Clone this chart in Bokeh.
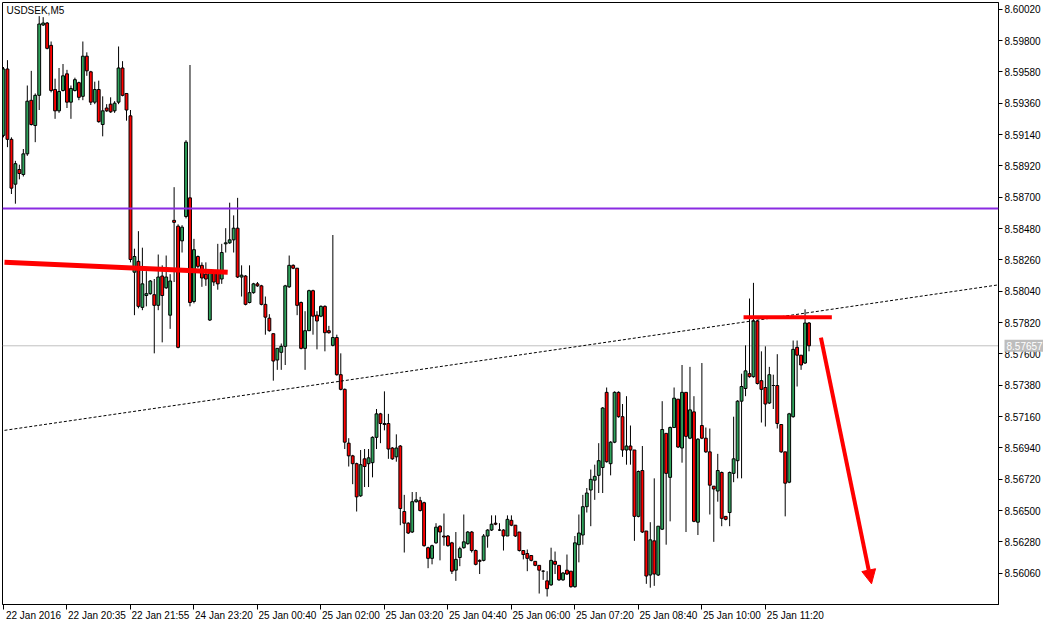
from bokeh.plotting import figure
from bokeh.models import (Range1d, FixedTicker, Span, Label, Arrow, NormalHead,
                          ColumnDataSource, NumeralTickFormatter, LinearAxis)
from bokeh.embed import file_html
from bokeh.resources import INLINE

# ---- data: USDSEK M5 candles (bar index 0..203) ----
opens = [
 8.59135, 8.59601, 8.59107, 8.58792, 8.58895, 8.58860, 8.59005, 8.59381, 8.59204, 8.59416,
 8.59910, 8.59924, 8.59767, 8.59457, 8.59307, 8.59450, 8.59567, 8.59368, 8.59450, 8.59505,
 8.59409, 8.59691, 8.59581, 8.59368, 8.59457, 8.59211, 8.59327, 8.59354, 8.59307, 8.59368,
 8.59608, 8.59429, 8.59272, 8.58174, 8.58250, 8.57927, 8.58010, 8.58023, 8.58016, 8.57941,
 8.58147, 8.58064, 8.57872, 8.58538, 8.58497, 8.58394, 8.58565, 8.58696, 8.57968, 8.58284,
 8.58222, 8.58160, 8.57838, 8.58174, 8.58181, 8.58126, 8.58373, 8.58380, 8.58401, 8.58483,
 8.58140, 8.58147, 8.57961, 8.58030, 8.58092, 8.58078, 8.57948, 8.57851, 8.57742, 8.57557,
 8.57611, 8.57653, 8.58071, 8.58222, 8.58202, 8.57961, 8.57639, 8.57763, 8.58044, 8.57872,
 8.57865, 8.57934, 8.57763, 8.57660, 8.57715, 8.57454, 8.57351, 8.56973, 8.56884, 8.56829,
 8.56603, 8.56863, 8.56829, 8.56836, 8.57014, 8.57179, 8.57111, 8.57111, 8.56939, 8.56877,
 8.56953, 8.56493, 8.56411, 8.56349, 8.56562, 8.56569, 8.56555, 8.56239, 8.56164, 8.56273,
 8.56390, 8.56321, 8.56321, 8.56273, 8.56081, 8.56170, 8.56239, 8.56267, 8.56349, 8.56219,
 8.56150, 8.56150, 8.56321, 8.56363, 8.56411, 8.56363, 8.56363, 8.56321, 8.56431, 8.56397,
 8.56349, 8.56219, 8.56198, 8.56184, 8.56143, 8.56115, 8.56074, 8.56006, 8.55978, 8.56143,
 8.56115, 8.56013, 8.56081, 8.56074, 8.55965, 8.56260, 8.56328, 8.56527, 8.56644, 8.56713,
 8.56747, 8.56802, 8.57330, 8.56829, 8.56980, 8.57330, 8.57159, 8.56925, 8.56953, 8.56925,
 8.56459, 8.56781, 8.56356, 8.56047, 8.56287, 8.56047, 8.56369, 8.57042, 8.56733, 8.57083,
 8.57282, 8.56939, 8.57330, 8.57008, 8.57193, 8.56418, 8.57097, 8.57008, 8.56912, 8.56671,
 8.56637, 8.56767, 8.56459, 8.56486, 8.56761, 8.56850, 8.57268, 8.57357, 8.57461, 8.57440,
 8.57831, 8.57412, 8.57364, 8.57255, 8.57378, 8.57378, 8.57104, 8.56912, 8.56699, 8.57159,
 8.57646, 8.57591, 8.57536, 8.57817]
highs = [
 8.59615, 8.59663, 8.59121, 8.58956, 8.58929, 8.59039, 8.59485, 8.59588, 8.59429, 8.59972,
 8.59965, 8.59931, 8.59794, 8.59533, 8.59608, 8.59636, 8.59595, 8.59485, 8.59540, 8.59512,
 8.59794, 8.59718, 8.59588, 8.59512, 8.59519, 8.59409, 8.59354, 8.59402, 8.59375, 8.59759,
 8.59656, 8.59429, 8.59313, 8.58339, 8.58462, 8.58346, 8.58181, 8.58119, 8.58126, 8.58298,
 8.58222, 8.58291, 8.58160, 8.58771, 8.58510, 8.58504, 8.59101, 8.59629, 8.58408, 8.58291,
 8.58243, 8.58243, 8.58174, 8.58181, 8.58373, 8.58373, 8.58483, 8.58662, 8.58573, 8.58696,
 8.58222, 8.58153, 8.58222, 8.58099, 8.58105, 8.58085, 8.58003, 8.57879, 8.57742, 8.57639,
 8.57673, 8.58085, 8.58291, 8.58229, 8.58202, 8.57968, 8.57900, 8.58051, 8.58051, 8.57900,
 8.57941, 8.57941, 8.57797, 8.58435, 8.57735, 8.57604, 8.57357, 8.57008, 8.56891, 8.56836,
 8.56925, 8.56932, 8.56932, 8.57021, 8.57213, 8.57186, 8.57337, 8.57179, 8.56946, 8.57035,
 8.56960, 8.56610, 8.56418, 8.56630, 8.56630, 8.56596, 8.56562, 8.56246, 8.56260, 8.56411,
 8.56397, 8.56479, 8.56328, 8.56280, 8.56349, 8.56246, 8.56472, 8.56356, 8.56356, 8.56226,
 8.56157, 8.56335, 8.56369, 8.56466, 8.56466, 8.56411, 8.56369, 8.56466, 8.56466, 8.56397,
 8.56349, 8.56219, 8.56226, 8.56184, 8.56143, 8.56115, 8.56081, 8.56074, 8.56239, 8.56212,
 8.56115, 8.56068, 8.56191, 8.56074, 8.56321, 8.56472, 8.56610, 8.56658, 8.56788, 8.56822,
 8.56973, 8.57227, 8.57364, 8.56987, 8.57337, 8.57337, 8.57248, 8.57303, 8.57097, 8.56925,
 8.56781, 8.56953, 8.56356, 8.56418, 8.56726, 8.56390, 8.57268, 8.57042, 8.57090, 8.57364,
 8.57282, 8.57522, 8.57330, 8.57509, 8.57303, 8.57008, 8.57536, 8.57083, 8.57076, 8.56671,
 8.56898, 8.56774, 8.56459, 8.56774, 8.57159, 8.57275, 8.57461, 8.57660, 8.57989, 8.58099,
 8.57838, 8.57618, 8.57653, 8.57509, 8.57454, 8.57598, 8.57104, 8.56912, 8.57186, 8.57694,
 8.57694, 8.57591, 8.57913, 8.57824]
lows = [
 8.59121, 8.59052, 8.58723, 8.58655, 8.58826, 8.58846, 8.58991, 8.59204, 8.59087, 8.59313,
 8.59903, 8.59739, 8.59437, 8.59251, 8.59293, 8.59443, 8.59327, 8.59251, 8.59443, 8.59382,
 8.59382, 8.59553, 8.59348, 8.59354, 8.59224, 8.59128, 8.59300, 8.59293, 8.59293, 8.59354,
 8.59409, 8.59238, 8.58243, 8.57872, 8.57920, 8.57907, 8.57934, 8.58016, 8.57604, 8.57907,
 8.57681, 8.58057, 8.57776, 8.58105, 8.57639, 8.58312, 8.58552, 8.57934, 8.57955, 8.58202,
 8.58071, 8.58078, 8.57831, 8.58078, 8.58051, 8.58092, 8.58312, 8.58373, 8.58312, 8.58133,
 8.58003, 8.57941, 8.57955, 8.58023, 8.58071, 8.57941, 8.57735, 8.57756, 8.57412, 8.57488,
 8.57488, 8.57522, 8.58064, 8.58195, 8.57872, 8.57632, 8.57488, 8.57763, 8.57735, 8.57632,
 8.57858, 8.57618, 8.57742, 8.57653, 8.57447, 8.57344, 8.56932, 8.56809, 8.56685, 8.56493,
 8.56596, 8.56665, 8.56665, 8.56733, 8.56932, 8.56973, 8.57063, 8.56863, 8.56856, 8.56843,
 8.56397, 8.56205, 8.56335, 8.56342, 8.56555, 8.56493, 8.56246, 8.56095, 8.56122, 8.56267,
 8.56150, 8.56253, 8.56246, 8.56054, 8.56006, 8.56109, 8.56232, 8.56260, 8.56205, 8.56115,
 8.56054, 8.56143, 8.56239, 8.56356, 8.56397, 8.56356, 8.56219, 8.56321, 8.56390, 8.56314,
 8.56212, 8.56157, 8.56074, 8.56143, 8.56109, 8.55917, 8.56013, 8.55896, 8.55971, 8.56054,
 8.56006, 8.56006, 8.56047, 8.55958, 8.55958, 8.56136, 8.56260, 8.56486, 8.56390, 8.56575,
 8.56623, 8.56623, 8.56836, 8.56747, 8.56973, 8.57152, 8.56877, 8.56822, 8.56822, 8.56287,
 8.56452, 8.56342, 8.55985, 8.55958, 8.55971, 8.56040, 8.56363, 8.56260, 8.56424, 8.57083,
 8.56939, 8.56836, 8.56349, 8.57001, 8.56418, 8.56328, 8.57001, 8.56905, 8.56472, 8.56280,
 8.56562, 8.56390, 8.56431, 8.56390, 8.56699, 8.56726, 8.56726, 8.57303, 8.57433, 8.57433,
 8.57385, 8.57118, 8.57090, 8.57248, 8.57213, 8.57076, 8.56905, 8.56459, 8.56692, 8.57152,
 8.57371, 8.57488, 8.57529, 8.57618]
closes = [
 8.59601, 8.59107, 8.58764, 8.58936, 8.58867, 8.59005, 8.59375, 8.59211, 8.59416, 8.59917,
 8.59924, 8.59746, 8.59450, 8.59307, 8.59443, 8.59553, 8.59368, 8.59464, 8.59526, 8.59402,
 8.59691, 8.59588, 8.59368, 8.59457, 8.59231, 8.59307, 8.59307, 8.59300, 8.59361, 8.59608,
 8.59416, 8.59313, 8.58263, 8.58284, 8.57934, 8.58092, 8.58023, 8.58112, 8.57941, 8.58140,
 8.58010, 8.58140, 8.58112, 8.58524, 8.57646, 8.58490, 8.59087, 8.57961, 8.58332, 8.58215,
 8.58133, 8.58126, 8.58167, 8.58105, 8.58092, 8.58312, 8.58380, 8.58401, 8.58483, 8.58140,
 8.58153, 8.57948, 8.58030, 8.58092, 8.58078, 8.57948, 8.57858, 8.57763, 8.57550, 8.57639,
 8.57653, 8.58078, 8.58222, 8.58202, 8.57941, 8.57639, 8.57763, 8.58044, 8.57865, 8.57831,
 8.57934, 8.57749, 8.57749, 8.57715, 8.57454, 8.57351, 8.56980, 8.56884, 8.56829, 8.56596,
 8.56822, 8.56809, 8.56870, 8.57014, 8.57179, 8.57111, 8.57104, 8.56932, 8.56863, 8.56939,
 8.56514, 8.56411, 8.56342, 8.56562, 8.56575, 8.56500, 8.56253, 8.56164, 8.56253, 8.56383,
 8.56349, 8.56314, 8.56253, 8.56074, 8.56157, 8.56232, 8.56280, 8.56349, 8.56219, 8.56122,
 8.56143, 8.56321, 8.56363, 8.56404, 8.56404, 8.56363, 8.56321, 8.56438, 8.56397, 8.56321,
 8.56219, 8.56191, 8.56164, 8.56150, 8.56115, 8.56081, 8.56074, 8.55951, 8.56150, 8.56122,
 8.56013, 8.56061, 8.56054, 8.55965, 8.56273, 8.56342, 8.56527, 8.56623, 8.56719, 8.56740,
 8.56850, 8.57220, 8.56843, 8.56980, 8.57330, 8.57159, 8.56925, 8.56953, 8.56925, 8.56459,
 8.56774, 8.56349, 8.56040, 8.56294, 8.56054, 8.56390, 8.57069, 8.56761, 8.57083, 8.57289,
 8.56946, 8.57330, 8.57021, 8.57207, 8.56424, 8.57001, 8.57008, 8.56912, 8.56678, 8.56651,
 8.56781, 8.56445, 8.56438, 8.56767, 8.56863, 8.57268, 8.57371, 8.57481, 8.57440, 8.57831,
 8.57392, 8.57351, 8.57248, 8.57454, 8.57378, 8.57111, 8.56912, 8.56692, 8.57179, 8.57632,
 8.57591, 8.57522, 8.57817, 8.57657]

time_tick_bars = [0, 16, 32, 48, 64, 80, 96, 112, 128, 144, 160, 176, 192]
time_tick_labels = ["22 Jan 2016", "22 Jan 20:35", "22 Jan 21:55", "24 Jan 23:20",
                    "25 Jan 00:40", "25 Jan 02:00", "25 Jan 03:20", "25 Jan 04:40",
                    "25 Jan 06:00", "25 Jan 07:20", "25 Jan 08:40", "25 Jan 10:00",
                    "25 Jan 11:20"]
price_ticks = [8.56060, 8.56280, 8.56500, 8.56720, 8.56940, 8.57160, 8.57380, 8.57600,
               8.57820, 8.58040, 8.58260, 8.58480, 8.58700, 8.58920, 8.59140, 8.59360,
               8.59580, 8.59800, 8.60020]

# drawn objects
support_x = [0.25, 56.5]
support_y = [8.58243, 8.58174]
resist_x = [186.5, 208.75]
resist_y = [8.57858, 8.57858]
trend_x = [0.25, 250.75]
trend_y = [8.57063, 8.58085]
purple_level = 8.58621
last_price = 8.57657
arrow_x = [206.0, 218.75]
arrow_y = [8.57715, 8.55985]

X_MIN, X_MAX = -0.25, 250.75
Y_MIN, Y_MAX = 8.55840, 8.60068
FRAME_W, FRAME_H = 996, 602

GREEN = "#2FA35C"
RED = "#FF0000"
FONT = "Liberation Sans"

idx = list(range(len(opens)))
src = ColumnDataSource(dict(
    x=idx, o=opens, h=highs, l=lows, c=closes,
    top=[max(a, b) for a, b in zip(opens, closes)],
    bot=[min(a, b) for a, b in zip(opens, closes)],
    col=[GREEN if c >= o else RED for o, c in zip(opens, closes)],
))

p = figure(frame_width=FRAME_W, frame_height=FRAME_H, output_backend="svg",
           toolbar_location=None,
           x_range=Range1d(X_MIN, X_MAX), y_range=Range1d(Y_MIN, Y_MAX),
           y_axis_location="right", min_border_left=2, min_border_top=2,
           min_border_right=2, min_border_bottom=2)
p.background_fill_color = "white"
p.border_fill_color = "white"
p.outline_line_color = "black"
p.outline_line_width = 1
p.grid.visible = False

# current price line (behind candles)
p.add_layout(Span(location=last_price, dimension="width", line_color="#C0C0C0",
                  line_width=1, level="underlay"))

p.segment(x0="x", y0="l", x1="x", y1="h", source=src, line_color="black", line_width=1)
p.vbar(x="x", width=0.72, top="top", bottom="bot", source=src, fill_color="col",
       line_color="black", line_width=1)

p.add_layout(Span(location=purple_level, dimension="width", line_color="#8A2BE2",
                  line_width=2))
p.line(trend_x, trend_y, line_color="black", line_width=1, line_dash="3 2")
p.line(support_x, support_y, line_color=RED, line_width=5)
p.line(resist_x, resist_y, line_color=RED, line_width=4)
p.add_layout(Arrow(end=NormalHead(size=14, fill_color=RED, line_color=RED),
                   x_start=arrow_x[0], y_start=arrow_y[0], x_end=arrow_x[1], y_end=arrow_y[1],
                   line_color=RED, line_width=4))

# y axis (right)
ya = p.yaxis[0]
ya.ticker = FixedTicker(ticks=price_ticks)
ya.formatter = NumeralTickFormatter(format="0.00000")
ya.major_label_text_font = FONT
ya.major_label_text_font_size = "10px"
ya.major_label_text_color = "black"
ya.major_tick_out = 4
ya.major_tick_in = 0
ya.minor_tick_line_color = None
ya.major_label_standoff = 2
ya.axis_line_color = "black"

# x axis: inner axis carries the tick marks only
xa = p.xaxis[0]
xa.ticker = FixedTicker(ticks=time_tick_bars)
xa.major_label_overrides = {t: "" for t in time_tick_bars}
xa.major_label_text_font_size = "0px"
xa.major_label_standoff = 0
xa.major_tick_out = 5
xa.major_tick_in = 0
xa.major_tick_line_color = "black"
xa.minor_tick_line_color = None
xa.axis_line_color = "black"

# outer axis carries the date labels, shifted so each label starts at its tick
px_per_bar = FRAME_W / (X_MAX - X_MIN)
shift = 30.0 / px_per_bar
p.extra_x_ranges = {"labels": Range1d(X_MIN - shift, X_MAX - shift)}
xl = LinearAxis(x_range_name="labels", ticker=FixedTicker(ticks=time_tick_bars))
xl.major_label_overrides = dict(zip(time_tick_bars, time_tick_labels))
xl.major_label_text_font = FONT
xl.major_label_text_font_size = "10px"
xl.major_label_text_color = "black"
xl.major_label_standoff = 0
xl.major_tick_out = 0
xl.major_tick_in = 0
xl.major_tick_line_color = None
xl.minor_tick_line_color = None
xl.axis_line_color = None
p.add_layout(xl, "below")

p.add_layout(Label(x=X_MIN, y=Y_MAX, text="USDSEK,M5", x_offset=4, y_offset=-2,
                   text_align="left", text_baseline="top",
                   text_font=FONT, text_font_size="10px", text_color="black"))

# last price tag on the price scale: placed in a side panel so it is not clipped
tag = Label(x=X_MAX, y=last_price, x_offset=6, text="8.57657",
            text_align="left", text_baseline="middle",
            text_font=FONT, text_font_size="10px", text_color="white",
            background_fill_color="#BDBDBD")
try:
    tag.padding = 2
except Exception:
    pass
p.add_layout(tag, "below")

open("out.html", "w").write(file_html(p, INLINE))
